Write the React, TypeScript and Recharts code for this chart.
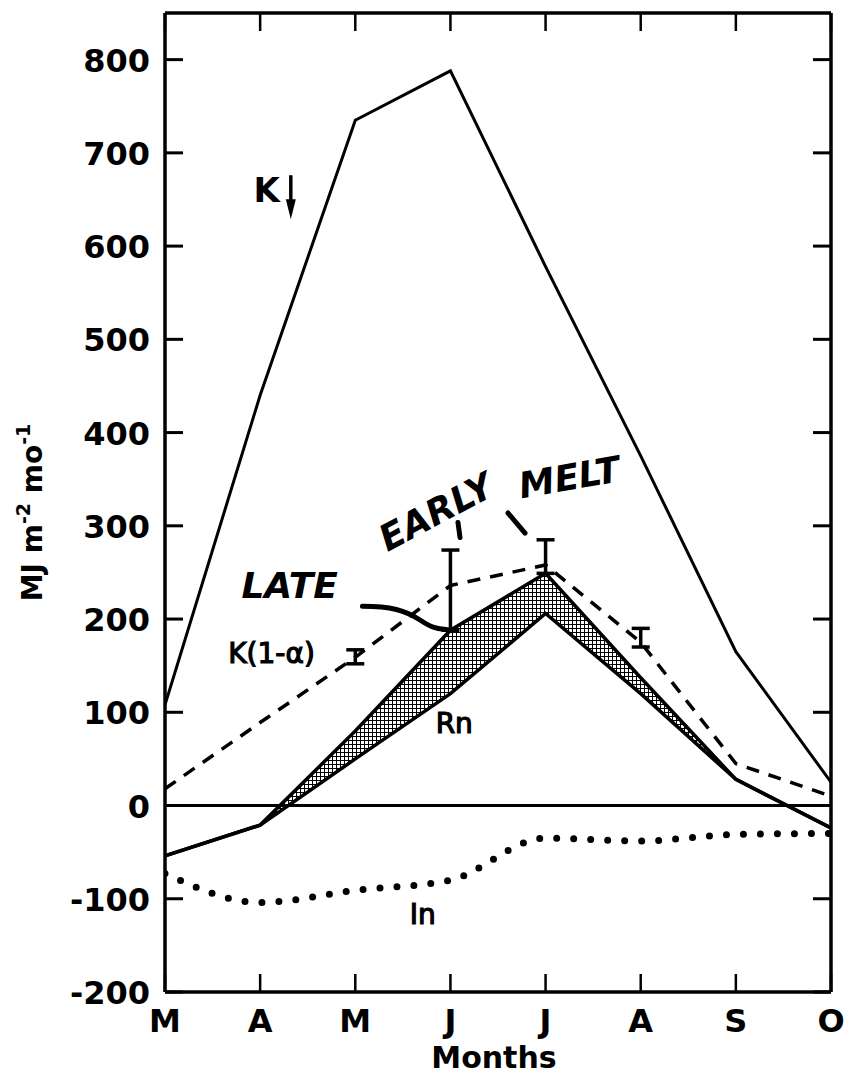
import React from "react";
import {
  ComposedChart,
  Line,
  Area,
  XAxis,
  YAxis,
  ReferenceLine,
  ReferenceDot,
  ErrorBar,
} from "recharts";

const months = ["M", "A", "M", "J", "J", "A", "S", "O"];
const monthIdx = [0, 1, 2, 3, 4, 5, 6, 7];
const yTicks = [-200, -100, 0, 100, 200, 300, 400, 500, 600, 700, 800];

// incoming shortwave, K down
const kDown = [108, 440, 735, 788, 578, 375, 165, 25];
// absorbed shortwave K(1-a) and its error bars (below, above)
const kAbs = [18, 89, 159, 236, 258, 175, 45, 10];
const kAbsErr = [null, null, [7, 8], [48, 38], [9, 27], [5, 15], null, null];
// net radiation envelope, early / late melt
const rnLow = [-54, -21, 50, 120, 206, 120, 28, -24];
const rnHigh = [-54, -21, 80, 188, 249, 137, 28, -24];
// net longwave
const lNet = [-73, -104, -91, -80, -35, -38, -31, -30];

const data = months.map((m, i) => ({
  idx: monthIdx[i],
  month: m,
  kDown: kDown[i],
  kAbs: kAbs[i],
  kAbsErr: kAbsErr[i],
  rn: [rnLow[i], rnHigh[i]],
  lNet: lNet[i],
}));

const FONT = "'DejaVu Sans', sans-serif";
const TICK = 18;
const frame = { stroke: "#000", strokeWidth: 3.5 };

function LeftTick({ x, y, payload }: any) {
  return (
    <g>
      <line x1={x} y1={y} x2={x + TICK} y2={y} stroke="#000" strokeWidth={3} />
      <text x={x - 15} y={y + 12} textAnchor="end" fontFamily={FONT} fontWeight="bold" fontSize={32} fill="#000">
        {payload.value}
      </text>
    </g>
  );
}

function RightTick({ x, y }: any) {
  return <line x1={x} y1={y} x2={x - TICK} y2={y} stroke="#000" strokeWidth={3} />;
}

function TopTick({ x, y }: any) {
  return <line x1={x} y1={y} x2={x} y2={y + TICK} stroke="#000" strokeWidth={2.5} />;
}

function BottomTick({ x, y, payload }: any) {
  return (
    <g>
      <line x1={x} y1={y} x2={x} y2={y - TICK} stroke="#000" strokeWidth={2.5} />
      <text x={x} y={y + 40} textAnchor="middle" fontFamily={FONT} fontWeight="bold" fontSize={32} fill="#000">
        {months[payload.value]}
      </text>
    </g>
  );
}

function YTitle({ viewBox }: any) {
  const x = viewBox.x - 122;
  const y = viewBox.y + viewBox.height / 2 + 10;
  return (
    <text transform={`translate(${x},${y}) rotate(-90)`} textAnchor="middle" fontFamily={FONT} fontWeight="bold" fontSize={28} fill="#000">
      MJ m<tspan dy={-12} fontSize={19}>-2</tspan>
      <tspan dy={12}> mo</tspan>
      <tspan dy={-12} fontSize={19}>-1</tspan>
    </text>
  );
}

function XTitle({ viewBox }: any) {
  return (
    <text x={viewBox.x + viewBox.width / 2 - 4} y={viewBox.y + 76} textAnchor="middle" fontFamily={FONT} fontWeight="bold" fontSize={30} fill="#000">
      Months
    </text>
  );
}

const note = (draw: (cx: number, cy: number) => React.ReactNode) => (p: any) => <g>{draw(p.cx, p.cy)}</g>;

const plain = { fontFamily: FONT, fontSize: 28, fill: "#000", stroke: "#000", strokeWidth: 1.2 };
const hand = { fontFamily: FONT, fontSize: 36, fontWeight: "bold" as const, fontStyle: "italic" as const, fill: "#000" };

export default function App() {
  return (
    <div style={{ position: "absolute", left: 0, top: 0, width: 844, height: 1078, background: "#fff" }}>
      <ComposedChart width={844} height={1078} data={data} margin={{ top: 12, right: 12, bottom: 85, left: 164 }}>
        <defs>
          <pattern id="stipple" width="4" height="4" patternUnits="userSpaceOnUse">
            <rect width="4" height="4" fill="#fff" />
            <rect width="4" height="1" fill="#000" />
            <rect width="1" height="4" fill="#000" />
          </pattern>
        </defs>
        <XAxis
          dataKey="idx"
          type="number"
          domain={[0, 7]}
          allowDataOverflow
          ticks={monthIdx}
          interval={0}
          height={1}
          tickSize={0}
          tickMargin={0}
          tickLine={false}
          axisLine={frame}
          tick={<BottomTick />}
          label={<XTitle />}
        />
        <XAxis
          xAxisId="top"
          orientation="top"
          type="number"
          domain={[0, 7]}
          allowDataOverflow
          ticks={monthIdx}
          interval={0}
          height={1}
          tickSize={0}
          tickMargin={0}
          tickLine={false}
          axisLine={frame}
          tick={<TopTick />}
        />
        <YAxis
          type="number"
          domain={[-200, 850]}
          allowDataOverflow
          ticks={yTicks}
          interval={0}
          width={1}
          tickSize={0}
          tickMargin={0}
          tickLine={false}
          axisLine={frame}
          tick={<LeftTick />}
          label={<YTitle />}
        />
        <YAxis
          yAxisId="right"
          orientation="right"
          type="number"
          domain={[-200, 850]}
          allowDataOverflow
          ticks={yTicks}
          interval={0}
          width={1}
          tickSize={0}
          tickMargin={0}
          tickLine={false}
          axisLine={frame}
          tick={<RightTick />}
        />
        <ReferenceLine y={0} stroke="#000" strokeWidth={3} />
        <Area
          type="linear"
          dataKey="rn"
          stroke="#000"
          strokeWidth={3.5}
          fill="url(#stipple)"
          fillOpacity={1}
          dot={false}
          activeDot={false}
          isAnimationActive={false}
        />
        <Line type="linear" dataKey="kDown" stroke="#000" strokeWidth={3} dot={false} activeDot={false} isAnimationActive={false} />
        <Line
          type="linear"
          dataKey="kAbs"
          stroke="#000"
          strokeWidth={3.5}
          strokeDasharray="13 10"
          dot={false}
          activeDot={false}
          isAnimationActive={false}
        >
          <ErrorBar dataKey="kAbsErr" direction="y" width={9} stroke="#000" strokeWidth={3.5} isAnimationActive={false} />
        </Line>
        <Line
          type="monotone"
          dataKey="lNet"
          stroke="#000"
          strokeWidth={7}
          strokeDasharray="0 17"
          strokeLinecap="round"
          dot={false}
          activeDot={false}
          isAnimationActive={false}
        />

        <ReferenceDot
          x={1.07}
          y={661}
          r={1}
          shape={note((cx, cy) => (
            <>
              <text x={cx} y={cy + 13} textAnchor="middle" fontFamily={FONT} fontWeight="bold" fontSize={34} fill="#000">K</text>
              <line x1={cx + 24} y1={cy - 14} x2={cx + 24} y2={cy + 14} stroke="#000" strokeWidth={3.5} />
              <polygon points={`${cx + 19},${cy + 10} ${cx + 29},${cy + 10} ${cx + 24},${cy + 30}`} fill="#000" />
            </>
          ))}
        />
        <ReferenceDot x={1.12} y={164} r={1} shape={note((cx, cy) => <text x={cx} y={cy + 10} textAnchor="middle" {...plain}>K(1-α)</text>)} />
        <ReferenceDot x={3.04} y={89} r={1} shape={note((cx, cy) => <text x={cx} y={cy + 10} textAnchor="middle" {...plain}>Rn</text>)} />
        <ReferenceDot x={2.71} y={-116} r={1} shape={note((cx, cy) => <text x={cx} y={cy + 10} textAnchor="middle" {...plain}>In</text>)} />
        <ReferenceDot x={1.31} y={236} r={1} shape={note((cx, cy) => <text x={cx} y={cy + 13} textAnchor="middle" {...hand}>LATE</text>)} />
        <ReferenceDot
          x={3}
          y={188}
          r={1}
          shape={note((cx, cy) => (
            <path
              d={`M ${cx - 88} ${cy - 24} C ${cx - 60} ${cy - 24}, ${cx - 45} ${cy - 20}, ${cx - 30} ${cy - 10} S ${cx - 10} ${cy - 2}, ${cx} ${cy}`}
              fill="none"
              stroke="#000"
              strokeWidth={5}
              strokeLinecap="round"
            />
          ))}
        />
        <ReferenceDot
          x={2.85}
          y={315}
          r={1}
          shape={note((cx, cy) => (
            <text transform={`translate(${cx},${cy}) rotate(-28)`} dy="0.35em" textAnchor="middle" {...hand}>EARLY</text>
          ))}
        />
        <ReferenceDot
          x={4.25}
          y={352}
          r={1}
          shape={note((cx, cy) => (
            <text transform={`translate(${cx},${cy}) rotate(-10)`} dy="0.35em" textAnchor="middle" {...hand}>MELT</text>
          ))}
        />
        <ReferenceDot
          x={3.09}
          y={295}
          r={1}
          shape={note((cx, cy) => <line x1={cx - 1} y1={cy - 8} x2={cx + 1} y2={cy + 7} stroke="#000" strokeWidth={5} strokeLinecap="round" />)}
        />
        <ReferenceDot
          x={3.7}
          y={303}
          r={1}
          shape={note((cx, cy) => <line x1={cx - 9} y1={cy - 10} x2={cx + 8} y2={cy + 10} stroke="#000" strokeWidth={5} strokeLinecap="round" />)}
        />
      </ComposedChart>
    </div>
  );
}
